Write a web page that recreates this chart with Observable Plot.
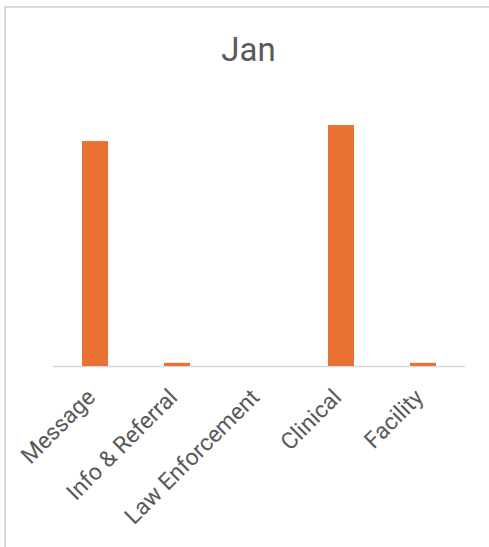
<!DOCTYPE html>
<html>
<head>
<meta charset="utf-8">
<script src="https://cdn.jsdelivr.net/npm/d3@7"></script>
<script src="https://cdn.jsdelivr.net/npm/@observablehq/plot@0.6"></script>
<style>
  html, body { margin: 0; padding: 0; background: #fff; }
  #chart { position: relative; width: 489px; height: 547px; overflow: hidden; font-family: Roboto, "Open Sans", sans-serif; }
  #frame { position: absolute; left: 4px; top: 6px; right: -10px; bottom: -10px; border-left: 2px solid #d9d9d9; border-top: 2px solid #d9d9d9; }
  #title { position: absolute; left: 0; top: 0; width: 497px; height: 90px; text-align: center; line-height: 100px; font-size: 33px; color: #595959; }
  #plot { position: absolute; left: 0; top: 90px; }
</style>
</head>
<body>
<div id="chart">
  <div id="frame"></div>
  <div id="title">Jan</div>
  <div id="plot"></div>
</div>
<script>
const categories = ["Message", "Info & Referral", "Law Enforcement", "Clinical", "Facility"];
const values = [140, 2, 0, 150, 2];
const titleText = "Jan";

const data = categories.map((c, i) => ({category: c, value: values[i]}));
document.getElementById("title").textContent = titleText;

const chart = Plot.plot({
  width: 489,
  height: 457,
  marginTop: 35,
  marginBottom: 181,
  marginLeft: 53,
  marginRight: 24,
  style: {fontFamily: "Roboto, 'Open Sans', sans-serif", background: "transparent"},
  x: {domain: categories, paddingInner: 0.68, paddingOuter: 0.34, label: null},
  y: {domain: [0, 150], axis: null},
  marks: [
    Plot.ruleY([0], {stroke: "#d9d9d9", strokeWidth: 1.5}),
    Plot.barY(data, {x: "category", y: "value", fill: "#E97132"}),
    Plot.axisX({tickSize: 0, tickRotate: -45, tickPadding: 27, dx: -4, fontSize: 23, color: "#595959", label: null})
  ]
});
document.getElementById("plot").appendChild(chart);
</script>
</body>
</html>
